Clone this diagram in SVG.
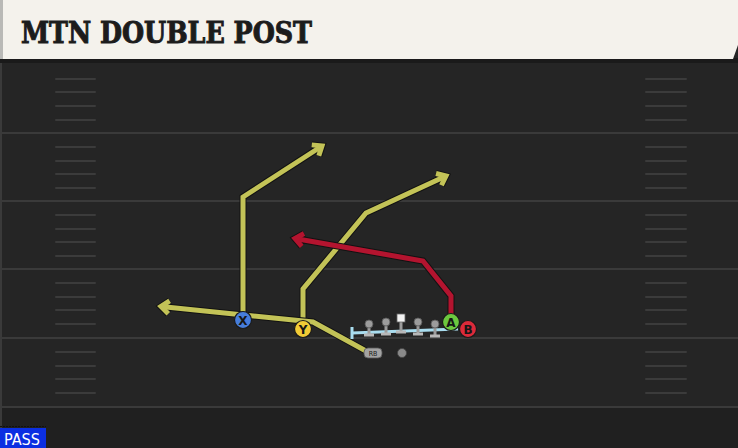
<svg xmlns="http://www.w3.org/2000/svg" width="738" height="448" viewBox="0 0 738 448">
<defs>
<style>
.yard{stroke:#3a3a3a;stroke-width:2}
.hash{stroke:#3b3b3b;stroke-width:2;stroke-linecap:round}
.out{fill:none;stroke:#121212;stroke-width:7;stroke-linejoin:miter;stroke-linecap:butt}
.yel{fill:none;stroke:#c3c357;stroke-width:5;stroke-linejoin:miter;stroke-linecap:butt}
.red{fill:none;stroke:#b3142f;stroke-width:5;stroke-linejoin:miter;stroke-linecap:butt}
.lbl{font-family:"DejaVu Sans","Liberation Sans",sans-serif;font-weight:bold;font-size:12px;fill:#161616;text-anchor:middle}
.ol{fill:#9c9c9c;stroke:#555;stroke-width:0.8}
.blk{stroke:#b8b8b8;stroke-width:3;fill:none}
</style>
<marker id="ah-out" markerUnits="userSpaceOnUse" markerWidth="30" markerHeight="30" refX="0" refY="0" viewBox="-15 -15 30 30" orient="auto" overflow="visible">
<path d="M-8,-6.5 L0,0 L-8,6.5" fill="none" stroke="#121212" stroke-width="7" stroke-linejoin="miter"/>
</marker>
<marker id="ah-yel" markerUnits="userSpaceOnUse" markerWidth="30" markerHeight="30" refX="0" refY="0" viewBox="-15 -15 30 30" orient="auto" overflow="visible">
<path d="M-8,-6.5 L0,0 L-8,6.5" fill="none" stroke="#c3c357" stroke-width="5" stroke-linejoin="miter"/>
</marker>
<marker id="ah-red" markerUnits="userSpaceOnUse" markerWidth="30" markerHeight="30" refX="0" refY="0" viewBox="-15 -15 30 30" orient="auto" overflow="visible">
<path d="M-8,-6.5 L0,0 L-8,6.5" fill="none" stroke="#b3142f" stroke-width="5" stroke-linejoin="miter"/>
</marker>
</defs>

<!-- field -->
<rect x="0" y="0" width="738" height="448" fill="#252525"/>
<rect x="0" y="406" width="738" height="42" fill="#202020"/>
<line x1="1" y1="62" x2="1" y2="428" stroke="#3a3a3a" stroke-width="2"/>
<g id="yardlines">
<line class="yard" x1="0" y1="133" x2="738" y2="133"/>
<line class="yard" x1="0" y1="201" x2="738" y2="201"/>
<line class="yard" x1="0" y1="269" x2="738" y2="269"/>
<line class="yard" x1="0" y1="338" x2="738" y2="338"/>
<line class="yard" x1="0" y1="407" x2="738" y2="407"/>
</g>
<g id="hashes">
<path class="hash" d="M56,79H95M56,92H95M56,106H95M56,120H95M56,147H95M56,161H95M56,174H95M56,188H95M56,215H95M56,229H95M56,242H95M56,256H95M56,283H95M56,297H95M56,310H95M56,324H95M56,352H95M56,366H95M56,379H95M56,393H95"/>
<path class="hash" d="M646,79H686M646,92H686M646,106H686M646,120H686M646,147H686M646,161H686M646,174H686M646,188H686M646,215H686M646,229H686M646,242H686M646,256H686M646,283H686M646,297H686M646,310H686M646,324H686M646,352H686M646,366H686M646,379H686M646,393H686"/>
</g>

<!-- title -->
<g id="title">
<rect x="0" y="58" width="738" height="5" fill="#1a1a1a"/>
<path d="M0,0 H738 V45 L733,59 H0 Z" fill="#f4f2ec"/>
<rect x="0" y="0" width="3" height="59" fill="#b9b9b6"/>
<text x="21" y="43" font-family="'DejaVu Serif Condensed','DejaVu Serif',serif" font-weight="bold" font-size="29" fill="#1c1c1c" stroke="#1c1c1c" stroke-width="0.9" textLength="291" lengthAdjust="spacingAndGlyphs">MTN DOUBLE POST</text>
</g>

<!-- connectors -->
<g id="connectors">
<path class="out" d="M243,320 V197 L322,146" marker-end="url(#ah-out)"/>
<path class="yel" d="M243,320 V197 L322,146" marker-end="url(#ah-yel)"/>
<path class="out" d="M303,329 V289 L366,213 L446,176" marker-end="url(#ah-out)"/>
<path class="yel" d="M303,329 V289 L366,213 L446,176" marker-end="url(#ah-yel)"/>
<path class="out" d="M366,351 L313,322 L161,306.5" marker-end="url(#ah-out)"/>
<path class="yel" d="M366,351 L313,322 L161,306.5" marker-end="url(#ah-yel)"/>
<path class="out" d="M451,318 V296 L423,261 L295,238.5" marker-end="url(#ah-out)"/>
<path class="red" d="M451,318 V296 L423,261 L295,238.5" marker-end="url(#ah-red)"/>
</g>

<!-- offensive line -->
<g id="oline">
<line x1="352" y1="333" x2="458" y2="329" stroke="#a9ddef" stroke-width="3"/>
<line x1="352" y1="327" x2="352" y2="339" stroke="#a9ddef" stroke-width="3"/>
</g>
<g id="lineman1">
<line x1="369" y1="327" x2="369" y2="334" stroke="#9c9c9c" stroke-width="3"/>
<line class="blk" x1="364" y1="335" x2="374" y2="335"/>
<circle class="ol" cx="369" cy="324" r="4"/>
</g>
<g id="lineman2">
<line x1="386" y1="325" x2="386" y2="333" stroke="#9c9c9c" stroke-width="3"/>
<line class="blk" x1="381" y1="334" x2="391" y2="334"/>
<circle class="ol" cx="386" cy="322" r="4"/>
</g>
<g id="center">
<line x1="401" y1="322" x2="401" y2="331" stroke="#9c9c9c" stroke-width="3"/>
<line class="blk" x1="396" y1="332" x2="406" y2="332"/>
<rect x="397" y="314" width="8" height="8" fill="#f2f2f2" stroke="#666" stroke-width="0.8"/>
</g>
<g id="lineman4">
<line x1="418" y1="325" x2="418" y2="333" stroke="#9c9c9c" stroke-width="3"/>
<line class="blk" x1="413" y1="334" x2="423" y2="334"/>
<circle class="ol" cx="418" cy="322" r="4"/>
</g>
<g id="lineman5">
<line x1="435" y1="327" x2="435" y2="335" stroke="#9c9c9c" stroke-width="3"/>
<line class="blk" x1="430" y1="336" x2="440" y2="336"/>
<circle class="ol" cx="435" cy="324" r="4"/>
</g>

<!-- backs -->
<g id="RB">
<rect x="364" y="348" width="18" height="10" rx="4" fill="#a3a3a3" stroke="#555" stroke-width="0.8"/>
<text x="373" y="356" font-family="'DejaVu Sans Condensed','DejaVu Sans',sans-serif" font-size="7" fill="#1a1a1a" text-anchor="middle">RB</text>
</g>
<g id="QB">
<circle cx="402" cy="353" r="4.5" fill="#8a8a8a" stroke="#444" stroke-width="0.8"/>
</g>

<!-- receivers -->
<g id="X">
<circle cx="243" cy="320" r="8.5" fill="#467ddb" stroke="#1a1a1a" stroke-width="1.2"/>
<text class="lbl" x="243" y="324.5">X</text>
</g>
<g id="Y">
<circle cx="303" cy="329" r="8.5" fill="#f1cb36" stroke="#1a1a1a" stroke-width="1.2"/>
<text class="lbl" x="303" y="333.5">Y</text>
</g>
<g id="A">
<circle cx="451" cy="322" r="8.5" fill="#6cc83f" stroke="#1a1a1a" stroke-width="1.2"/>
<text class="lbl" x="451" y="326.5">A</text>
</g>
<g id="B">
<circle cx="468" cy="329" r="8.5" fill="#dc2a3a" stroke="#1a1a1a" stroke-width="1.2"/>
<text class="lbl" x="468" y="333.5">B</text>
</g>

<!-- pass tag -->
<g id="pass">
<line x1="0" y1="426.5" x2="46" y2="426.5" stroke="#111" stroke-width="1" stroke-dasharray="2,1"/>
<rect x="0" y="428" width="46" height="20" fill="#0b2fe2"/>
<text x="4" y="445" font-family="'DejaVu Sans Condensed','DejaVu Sans',sans-serif" font-size="15" fill="#ffffff" textLength="36" lengthAdjust="spacingAndGlyphs">PASS</text>
</g>
</svg>
